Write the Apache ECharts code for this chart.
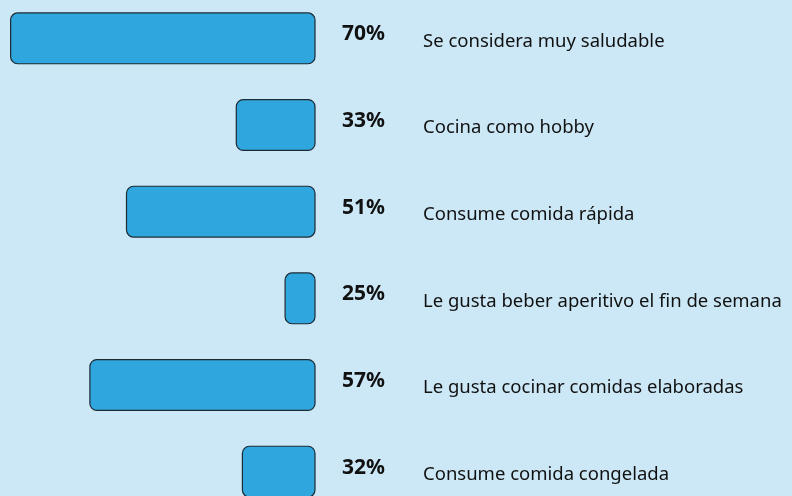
<!DOCTYPE html>
<html>
<head>
<meta charset="utf-8">
<script src="https://cdn.jsdelivr.net/npm/echarts@6/dist/echarts.min.js"></script>
<style>
  html, body { margin: 0; padding: 0; background: #cce8f6; }
  #chart { width: 792px; height: 496px; }
</style>
</head>
<body>
<div id="chart"></div>
<script>
// Habits survey: share of respondents per statement
const categories = [
  'Se considera muy saludable',
  'Cocina como hobby',
  'Consume comida rápida',
  'Le gusta beber aperitivo el fin de semana',
  'Le gusta cocinar comidas elaboradas',
  'Consume comida congelada'
];
const values = [70, 33, 51, 25, 57, 32];

const chart = echarts.init(document.getElementById('chart'));
chart.setOption({
  backgroundColor: '#cce8f6',
  animation: false,
  grid: { left: 10, right: 477, top: -5, bottom: -19, containLabel: false, outerBoundsMode: 'none' },
  xAxis: {
    type: 'value',
    inverse: true,
    min: 20,
    max: 70,
    show: false
  },
  yAxis: {
    type: 'category',
    data: categories,
    inverse: true,
    position: 'right',
    axisLine: { show: false },
    axisTick: { show: false },
    splitLine: { show: false },
    axisLabel: {
      margin: 27,
      align: 'left',
      formatter: function (name, idx) {
        return '{p|' + values[idx] + '%}{t|' + name + '}';
      },
      rich: {
        p: { width: 81, fontFamily: 'Noto Sans', fontWeight: 'bold', fontSize: 21, color: '#111', padding: [0, 0, 8, 0] },
        t: { fontFamily: 'Noto Sans', fontSize: 18.5, color: '#111', padding: [6, 0, 0, 0] }
      }
    }
  },
  series: [{
    type: 'bar',
    data: values,
    barWidth: 52,
    itemStyle: {
      color: '#30a6de',
      borderColor: '#1c2a33',
      borderWidth: 1.2,
      borderRadius: 7
    }
  }]
});
</script>
</body>
</html>
